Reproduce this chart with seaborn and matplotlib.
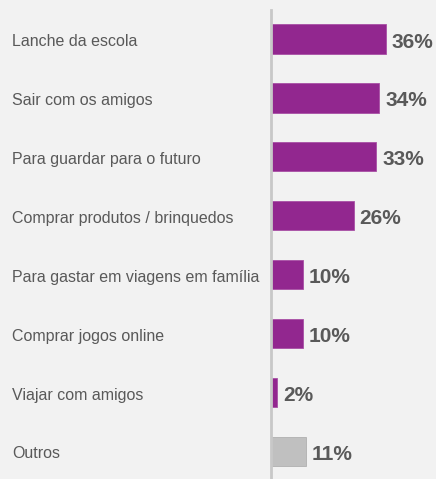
import matplotlib
matplotlib.use("Agg")
import matplotlib.pyplot as plt
import matplotlib.transforms as mtransforms
import pandas as pd
import seaborn as sns

categories = [
    "Lanche da escola",
    "Sair com os amigos",
    "Para guardar para o futuro",
    "Comprar produtos / brinquedos",
    "Para gastar em viagens em família",
    "Comprar jogos online",
    "Viajar com amigos",
    "Outros",
]
values = [36, 34, 33, 26, 10, 10, 2, 11]
labels = ["36%", "34%", "33%", "26%", "10%", "10%", "2%", "11%"]

df = pd.DataFrame({"categoria": categories, "valor": values})

bg = "#f2f2f2"
purple = "#92278f"
grey_bar = "#c0c0c0"
text_col = "#595959"

sns.set_style("white")
plt.rcParams["font.family"] = ["Liberation Sans", "DejaVu Sans"]

W, H = 436, 479
fig = plt.figure(figsize=(W / 100, H / 100), dpi=100, facecolor=bg)
ax = fig.add_axes([271 / W, 0, (W - 271) / W, (H - 10) / H])
ax.set_facecolor(bg)

colors = [purple] * 7 + [grey_bar]
sns.barplot(data=df, x="valor", y="categoria", hue="categoria", palette=colors,
            legend=False, width=0.5, saturation=1, ax=ax, orient="h")
for patch, c in zip(ax.patches, colors):
    patch.set_edgecolor("#a850a5" if c == purple else "#b0b0b0")
    patch.set_linewidth(0.6)

ax.set_xlim(0, (W - 271) / 3.19)
ax.set_ylim(7.47, -0.49)
ax.set_xlabel("")
ax.set_ylabel("")
ax.set_xticks([])
ax.set_yticks([])
for side in ["top", "right", "bottom"]:
    ax.spines[side].set_visible(False)
ax.spines["left"].set_color("#c8c8c8")
ax.spines["left"].set_linewidth(2)

trans = mtransforms.blended_transform_factory(fig.transFigure, ax.transData)
for i, (cat, v, lab) in enumerate(zip(categories, values, labels)):
    ax.text(12 / W, i + 0.02, cat, transform=trans, ha="left", va="center_baseline",
            fontsize=11.5, color=text_col)
    ax.text(v + 1.8, i + 0.02, lab, ha="left", va="center_baseline", fontsize=15,
            fontweight="bold", color=text_col)

fig.savefig("out.png", dpi=100, facecolor=bg)
